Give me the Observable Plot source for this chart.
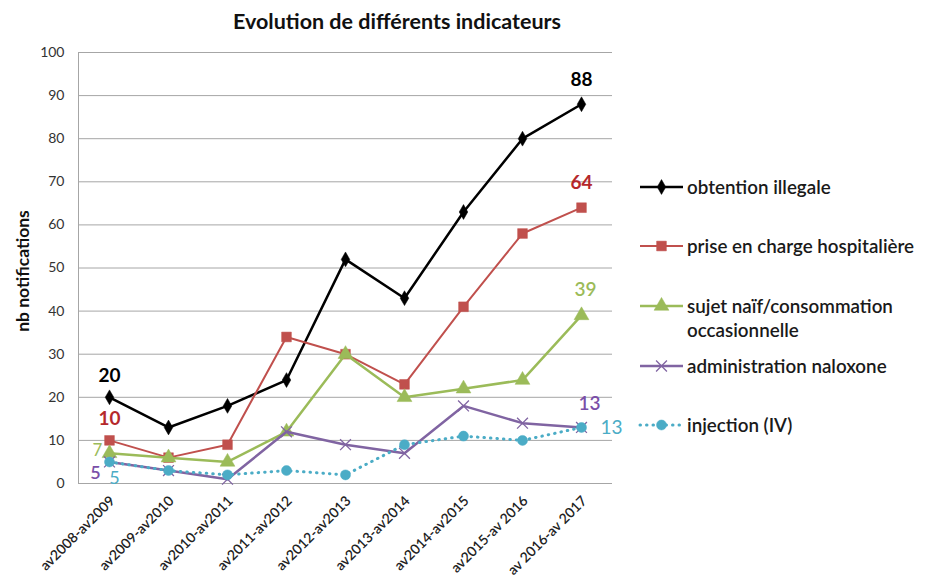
<!DOCTYPE html>
<html>
<head>
<meta charset="utf-8">
<script src="https://cdn.jsdelivr.net/npm/d3@7"></script>
<script src="https://cdn.jsdelivr.net/npm/@observablehq/plot@0.6"></script>
<style>
  body { margin: 0; background: #fff; font-family: Lato, "Open Sans", sans-serif; }
  #wrap { position: relative; width: 929px; height: 581px; overflow: hidden; }
  #title { position: absolute; left: 0; top: 8px; width: 794px; text-align: center; font-weight: bold; font-size: 21.5px; color: #111; }
  #chart { position: absolute; left: 0; top: 40px; }
  #ylabel { position: absolute; left: 22px; top: 271px; transform: translate(-50%, -50%) rotate(-90deg); font-weight: bold; font-size: 17.5px; color: #111; white-space: nowrap; }
  #legend { position: absolute; left: 0; top: 0; }
</style>
</head>
<body>
<div id="wrap">
  <div id="title">Evolution de différents indicateurs</div>
  <div id="chart"></div>
  <div id="ylabel">nb notifications</div>
  <svg id="legend" width="929" height="581"></svg>
</div>
<script>
const categories = ["av2008-av2009","av2009-av2010","av2010-av2011","av2011-av2012","av2012-av2013","av2013-av2014","av2014-av2015","av2015-av 2016","av 2016-av 2017"];
const seriesNames = ["obtention illegale","prise en charge hospitalière","sujet naïf/consommation occasionnelle","administration naloxone","injection (IV)"];
const obtention = [20, 13, 18, 24, 52, 43, 63, 80, 88];
const priseEnCharge = [10, 6, 9, 34, 30, 23, 41, 58, 64];
const sujetNaif = [7, 6, 5, 12, 30, 20, 22, 24, 39];
const naloxone = [5, 3, 1, 12, 9, 7, 18, 14, 13];
const injection = [5, 3, 2, 3, 2, 9, 11, 10, 13];
const yTicks = [0, 10, 20, 30, 40, 50, 60, 70, 80, 90, 100];

const seriesValues = [obtention, priseEnCharge, sujetNaif, naloxone, injection];
const styles = [
  {stroke: "#000000", width: 2.5, symbol: "diamond", r: 4.5, fill: "#000000", dash: null},
  {stroke: "#c0504d", width: 2, symbol: "square", r: 5.5, fill: "#c0504d", dash: null},
  {stroke: "#9bbb59", width: 2.5, symbol: "triangle", r: 5.5, fill: "#9bbb59", dash: null},
  {stroke: "#8064a2", width: 2.5, symbol: "times", r: 5, fill: "none", dash: null},
  {stroke: "#4bacc6", width: 3, symbol: "circle", r: 5, fill: "#4bacc6", dash: "0.5 6"}
];

// data labels: series index, category index, text colour, weight, offsets
const labels = [
  {s: 0, i: 0, color: "#000000", weight: "bold", dx: 0, dy: -21, size: 19},
  {s: 0, i: 8, color: "#000000", weight: "bold", dx: 0, dy: -24, size: 19},
  {s: 1, i: 0, color: "#b5282b", weight: "bold", dx: 0, dy: -21, size: 19},
  {s: 1, i: 8, color: "#b5282b", weight: "bold", dx: 0, dy: -25, size: 19},
  {s: 2, i: 0, color: "#9bbb59", weight: "normal", dx: -12, dy: -3, size: 17},
  {s: 2, i: 8, color: "#9bbb59", weight: "600", dx: 4, dy: -26, size: 19},
  {s: 3, i: 0, color: "#7a4fa8", weight: "600", dx: -14, dy: 11, size: 18},
  {s: 3, i: 8, color: "#7a4fa8", weight: "600", dx: 8, dy: -24, size: 19},
  {s: 4, i: 0, color: "#4bacc6", weight: "normal", dx: 5, dy: 16, size: 18},
  {s: 4, i: 8, color: "#4bacc6", weight: "normal", dx: 30, dy: 0, size: 19}
].map(d => ({...d, x: categories[d.i], y: seriesValues[d.s][d.i], text: String(seriesValues[d.s][d.i])}));

const rows = seriesValues.map(vals => vals.map((v, i) => ({x: categories[i], y: v})));

const marks = [
  Plot.gridY(yTicks, {stroke: "#a6a6a6", strokeOpacity: 1}),
  Plot.axisY({ticks: yTicks, tickSize: 0, tickPadding: 14, fontSize: 14, fill: "#333", label: null}),
  Plot.axisX({tickRotate: -45, tickSize: 0, tickPadding: 15, dx: 3, fontSize: 14, fontWeight: 600, fill: "#222", label: null}),
  Plot.frame({anchor: "left", stroke: "#a6a6a6", strokeOpacity: 1})
];
rows.forEach((r, k) => {
  const st = styles[k];
  marks.push(Plot.line(r, {x: "x", y: "y", stroke: st.stroke, strokeWidth: st.width, strokeDasharray: st.dash, strokeLinecap: st.dash ? "round" : "butt"}));
  marks.push(Plot.dot(r, {x: "x", y: "y", symbol: st.symbol, r: st.r, fill: st.fill, stroke: st.stroke, strokeWidth: st.symbol === "times" ? 1.3 : 0.5}));
});
labels.forEach(l => {
  marks.push(Plot.text([l], {x: "x", y: "y", text: "text", fill: l.color, fontWeight: l.weight, dx: l.dx, dy: l.dy, fontSize: l.size}));
});

const chart = Plot.plot({
  width: 929,
  height: 541,
  marginTop: 12,
  marginBottom: 98,
  marginLeft: 78,
  marginRight: 317,
  style: {fontFamily: "Lato, 'Open Sans', sans-serif", fontSize: "14px", color: "#333", background: "white"},
  x: {type: "point", domain: categories, padding: 0.5, label: null},
  y: {domain: [0, 100], label: null},
  marks
});
document.getElementById("chart").appendChild(chart);

// legend
const leg = d3.select("#legend");
const legY = [187, 246, 306, 366, 425];
seriesNames.forEach((name, k) => {
  const st = styles[k];
  const g = leg.append("g").attr("transform", `translate(0,${legY[k]})`);
  g.append("line").attr("x1", 640).attr("x2", 683).attr("y1", 0).attr("y2", 0)
    .attr("stroke", st.stroke).attr("stroke-width", st.width)
    .attr("stroke-dasharray", st.dash).attr("stroke-linecap", st.dash ? "round" : "butt");
  const symMap = {diamond: d3.symbolDiamond, square: d3.symbolSquare, triangle: d3.symbolTriangle, times: d3.symbolTimes, circle: d3.symbolCircle};
  const size = st.r * st.r * Math.PI;
  g.append("path").attr("transform", "translate(661.5,0)").attr("d", d3.symbol(symMap[st.symbol], size)())
    .attr("fill", st.fill).attr("stroke", st.stroke).attr("stroke-width", st.symbol === "times" ? 1.3 : 0.5);
  const t = g.append("text").attr("x", 687).attr("y", 0).attr("dy", "0.35em")
    .attr("font-family", "Lato, 'Open Sans', sans-serif").attr("font-size", 18.8).attr("font-weight", 600).attr("fill", "#1a1a1a");
  if (k === 2) {
    t.append("tspan").attr("x", 687).text("sujet naïf/consommation");
    t.append("tspan").attr("x", 687).attr("dy", "1.3em").text("occasionnelle");
  } else {
    t.text(name);
  }
});
</script>
</body>
</html>
